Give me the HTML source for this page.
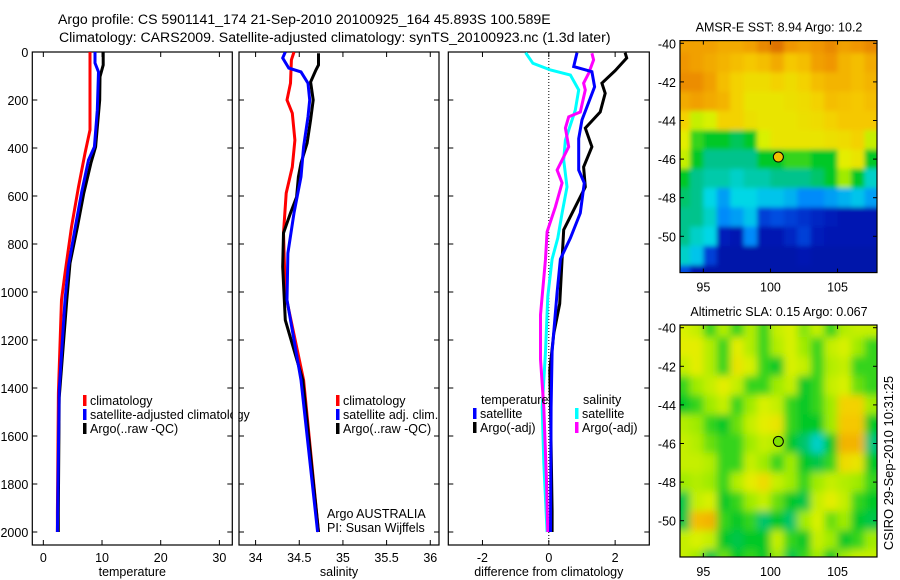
<!DOCTYPE html>
<html><head><meta charset="utf-8"><style>
html,body{margin:0;padding:0;background:#fff;}
svg{display:block;font-family:"Liberation Sans",Arial,sans-serif;}
</style></head><body>
<svg id="fig" width="900" height="580" viewBox="0 0 900 580" xmlns="http://www.w3.org/2000/svg">
<defs>
<clipPath id="c1"><rect x="32.3" y="52" width="200" height="493"/></clipPath>
<clipPath id="c2"><rect x="239" y="52" width="200" height="493"/></clipPath>
<clipPath id="c3"><rect x="448.3" y="52" width="201" height="493"/></clipPath>
<clipPath id="cm1"><rect x="680" y="40.7" width="197" height="232"/></clipPath>
<clipPath id="cm2"><rect x="680" y="324.5" width="197" height="232"/></clipPath>
<filter id="bl1" filterUnits="userSpaceOnUse" x="600" y="0" width="300" height="300"><feGaussianBlur stdDeviation="2.5"/></filter>
<filter id="bl2" filterUnits="userSpaceOnUse" x="600" y="280" width="300" height="300"><feGaussianBlur stdDeviation="4"/></filter>
</defs>
<text x="58" y="24" font-size="14.1">Argo profile: CS 5901141_174 21-Sep-2010 20100925_164 45.893S 100.589E</text>
<text x="59" y="42" font-size="14.1">Climatology: CARS2009. Satellite-adjusted climatology: synTS_20100923.nc (1.3d later)</text>
<g id="g1"></g>
<g id="g2"></g>
<g id="g3"></g>
<g id="m1"></g>
<g id="m2"></g>
<text transform="translate(893,463) rotate(-90)" text-anchor="middle" font-size="13">CSIRO 29-Sep-2010 10:31:25</text>
</svg>
<script>
// ---- data ----
const depthTicks = [0,200,400,600,800,1000,1200,1400,1600,1800,2000];
const tempTicks = [0,10,20,30];
const salTicks = [34,34.5,35,35.5,36];
const salTickLabels = ["34","34.5","35","35.5","36"];
const diffTicks = [-2,0,2];
const latTicks = [-40,-42,-44,-46,-48,-50];
const lonTicks = [95,100,105];

const tClimD = [0,325,422,562,729,922,1033,1422,1921,2000];
const tClimV = [7.96,7.96,7.1,6.0,4.8,3.7,3.1,2.56,2.4,2.4];
const tSatD = [0,46,83,242,395,450,588,729,895,1033,1408,2000];
const tSatV = [8.8,8.8,9.4,9.2,8.7,7.7,6.5,5.45,4.25,3.7,2.7,2.4];
const tArgoD = [2,54,103,200,395,463,588,729,880,1033,1440,1921,2000];
const tArgoV = [10.2,10.2,9.65,9.6,8.9,8.1,6.9,5.8,4.55,4.0,2.7,2.55,2.55];

const sClimD = [0,33,130,200,255,367,479,588,754,1005,1367,2000];
const sClimV = [34.44,34.41,34.4,34.36,34.42,34.45,34.42,34.35,34.32,34.34,34.55,34.72];
const sSatD = [0,25,67,83,130,200,270,395,520,671,838,1033,1367,2000];
const sSatV = [34.34,34.31,34.38,34.52,34.6,34.62,34.6,34.55,34.52,34.44,34.37,34.36,34.52,34.71];
const sArgoD = [5,54,75,125,200,283,380,463,520,604,671,754,895,1117,1367,2000];
const sArgoV = [34.72,34.72,34.69,34.63,34.66,34.63,34.59,34.52,34.49,34.47,34.4,34.32,34.31,34.34,34.54,34.72];

const dTSatD = [3,61,82,145,283,361,492,546,671,775,863,1002,1249,1480,2000];
const dTSatV = [0.85,0.75,1.3,1.38,1.0,0.9,0.9,1.07,0.95,0.65,0.35,0.25,0.1,0.07,0.05];
const dTArgoD = [3,25,78,130,172,250,317,395,479,562,645,741,863,1049,1172,1326,1480,1912,2000];
const dTArgoV = [2.3,2.35,2.0,1.6,1.7,1.55,1.1,1.3,1.05,1.1,0.8,0.45,0.4,0.33,0.15,0.03,0.05,0.1,0.1];
const dSSatD = [3,47,75,96,158,242,367,450,562,671,775,863,1018,1249,1480,1712,2000];
const dSSatV = [-0.7,-0.48,0.05,0.65,0.9,0.8,0.5,0.45,0.55,0.4,0.27,0.1,-0.03,-0.1,-0.2,-0.15,-0.05];
const dSArgoD = [5,33,89,130,158,250,270,317,395,492,546,645,749,863,1095,1280,1480,1788,2000];
const dSArgoV = [1.3,1.35,1.2,1.05,1.1,0.95,0.6,0.5,0.6,0.25,0.4,0.2,-0.05,-0.1,-0.25,-0.25,-0.15,-0.07,-0.03];

const sstRows = [
[.8,.8,.8,.78,.78,.8,.85,.9,.82,.8,.82,.85,.8,.82,.85],
[.82,.8,.78,.76,.74,.72,.74,.78,.72,.74,.8,.82,.76,.74,.78],
[.84,.84,.8,.74,.7,.68,.68,.7,.68,.7,.74,.76,.76,.74,.76],
[.78,.8,.78,.76,.7,.66,.66,.66,.67,.68,.7,.74,.73,.72,.74],
[.7,.6,.62,.7,.7,.67,.66,.66,.66,.67,.68,.7,.72,.72,.72],
[.64,.52,.5,.5,.47,.5,.62,.66,.66,.66,.66,.67,.68,.7,.6],
[.6,.5,.44,.44,.44,.44,.5,.5,.52,.52,.5,.5,.64,.66,.5],
[.5,.44,.42,.42,.4,.42,.42,.44,.44,.44,.46,.5,.56,.5,.4],
[.46,.44,.38,.32,.38,.38,.36,.36,.34,.3,.3,.32,.34,.36,.32],
[.44,.44,.4,.3,.32,.36,.2,.22,.2,.18,.16,.14,.12,.12,.12],
[.44,.4,.38,.14,.12,.3,.12,.12,.16,.2,.14,.12,.12,.12,.12],
[.4,.36,.2,.1,.1,.1,.1,.1,.1,.12,.1,.1,.1,.1,.1],
[.22,.12,.1,.1,.1,.1,.1,.1,.1,.1,.1,.1,.1,.1,.1]];
const slaRows = [
[.62,.6,.52,.58,.52,.58,.52,.6,.62,.55,.6,.52,.58,.6,.6],
[.64,.64,.58,.52,.64,.58,.52,.58,.62,.56,.52,.6,.62,.56,.52],
[.6,.64,.58,.52,.66,.62,.52,.5,.62,.6,.52,.58,.6,.52,.52],
[.52,.56,.6,.64,.6,.52,.52,.56,.6,.5,.52,.6,.62,.54,.52],
[.5,.52,.56,.6,.52,.56,.62,.6,.52,.5,.52,.56,.7,.7,.56],
[.58,.56,.52,.5,.54,.6,.64,.66,.52,.5,.5,.56,.72,.72,.5],
[.6,.58,.54,.52,.52,.56,.6,.58,.5,.46,.4,.5,.76,.76,.45],
[.6,.6,.58,.52,.52,.6,.56,.52,.56,.5,.48,.52,.68,.66,.5],
[.56,.58,.56,.52,.58,.64,.68,.6,.56,.52,.56,.6,.58,.56,.52],
[.48,.6,.62,.5,.52,.56,.6,.54,.5,.48,.6,.64,.6,.52,.5],
[.48,.74,.76,.52,.5,.52,.46,.5,.46,.56,.62,.54,.56,.5,.48],
[.6,.62,.6,.5,.48,.5,.5,.6,.52,.5,.6,.56,.5,.52,.56],
[.6,.56,.48,.54,.5,.52,.5,.56,.48,.52,.56,.5,.56,.6,.6]];
const floatLon = 100.589, floatLat = -45.893;

// ---- helpers ----
const NS = "http://www.w3.org/2000/svg";
function mk(tag, attrs, parent){const e=document.createElementNS(NS,tag);for(const k in attrs)e.setAttribute(k,attrs[k]);parent.appendChild(e);return e;}
const yD = d => 52 + d*0.24;
const PT=52, PB=545;

function panel(g, x0, x1, dom, ticks, labels, xlabel, clip, showY){
  const sx = v => x0 + (v-dom[0])/(dom[1]-dom[0])*(x1-x0);
  const box = mk('rect',{x:x0,y:PT,width:x1-x0,height:PB-PT,fill:'none',stroke:'#000','stroke-width':1.2},g);
  
  
  ticks.forEach((t,i)=>{
    const x=sx(t);
    mk('line',{x1:x,x2:x,y1:PB,y2:PB-5,stroke:'#000'},g);
    mk('line',{x1:x,x2:x,y1:PT,y2:PT+5,stroke:'#000'},g);
    const tl=mk('text',{x:x,y:PB+17,'font-size':12.5,'text-anchor':'middle'},g);
    tl.textContent=labels[i];
    
    
  });
  depthTicks.forEach(d=>{
    const y=yD(d);
    mk('line',{x1:x0,x2:x0+5,y1:y,y2:y,stroke:'#000'},g);
    mk('line',{x1:x1,x2:x1-5,y1:y,y2:y,stroke:'#000'},g);
    if(showY){const tl=mk('text',{x:x0-4,y:y+5,'font-size':12.5,'text-anchor':'end'},g);tl.textContent=d;
      
      }
  });
  const xl=mk('text',{x:(x0+x1)/2,y:576,'font-size':12.5,'text-anchor':'middle'},g);
  xl.textContent=xlabel;
  
  
  const lg=mk('g',{'clip-path':'url(#'+clip+')'},g);
  return {sx,lg};
}
function line(p, D, V, color, name){
  const pts=D.map((d,i)=>p.sx(V[i]).toFixed(1)+','+yD(d).toFixed(1)).join(' ');
  const l=mk('polyline',{points:pts,fill:'none',stroke:color,'stroke-width':3,'stroke-linejoin':'miter'},p.lg);
  
  
}
function legend(g, x, y, color, label){
  mk('rect',{x:x,y:y-10,width:3.5,height:11,fill:color},g);
  const t=mk('text',{x:x+7,y:y,'font-size':12.5},g);
  t.textContent=label;
  
  
}

// panel 1
const g1=document.getElementById('g1');
const p1=panel(g1,32.3,232.3,[-1.88,32.2],tempTicks,tempTicks.map(String),'temperature','c1',true);
line(p1,tClimD,tClimV,'#f00','temp-climatology-line');
line(p1,tArgoD,tArgoV,'#000','temp-argo-line');
line(p1,tSatD,tSatV,'#00f','temp-satellite-line');
legend(g1,83,405,'#f00','climatology');
legend(g1,83,419,'#00f','satellite-adjusted climatology');
legend(g1,83,433,'#000','Argo(..raw -QC)');
mk('rect',{x:232.9,y:400,width:5.5,height:30,fill:'#fff'},g1);

// panel 2
const g2=document.getElementById('g2');
const p2=panel(g2,239,439,[33.81,36.1],salTicks,salTickLabels,'salinity','c2',false);
line(p2,sClimD,sClimV,'#f00','sal-climatology-line');
line(p2,sArgoD,sArgoV,'#000','sal-argo-line');
line(p2,sSatD,sSatV,'#00f','sal-satellite-line');
legend(g2,336,405,'#f00','climatology');
legend(g2,336,419,'#00f','satellite adj. clim.');
legend(g2,336,433,'#000','Argo(..raw -QC)');
const a1=mk('text',{x:327,y:518,'font-size':12.5},g2);a1.textContent='Argo AUSTRALIA';


const a2=mk('text',{x:327,y:532,'font-size':12.5},g2);a2.textContent='PI: Susan Wijffels';



// panel 3
const g3=document.getElementById('g3');
const p3=panel(g3,448.3,649.3,[-3.03,3.03],diffTicks,diffTicks.map(String),'difference from climatology','c3',false);
mk('line',{x1:p3.sx(0),x2:p3.sx(0),y1:PT,y2:PB,stroke:'#000','stroke-dasharray':'1,2'},p3.lg);
line(p3,dSSatD,dSSatV,'#0ff','sal-satellite-diff-line');
line(p3,dSArgoD,dSArgoV,'#f0f','sal-argo-diff-line');
line(p3,dTArgoD,dTArgoV,'#000','temp-argo-diff-line');
line(p3,dTSatD,dTSatV,'#00f','temp-satellite-diff-line');
const lt=mk('text',{x:481,y:404,'font-size':12.5},g3);lt.textContent='temperature';


const ls=mk('text',{x:583,y:404,'font-size':12.5},g3);ls.textContent='salinity';


legend(g3,473,418,'#00f','satellite');
legend(g3,473,432,'#000','Argo(-adj)');
legend(g3,575,418,'#0ff','satellite');
legend(g3,575,432,'#f0f','Argo(-adj)');

// maps
const cmapStops=[[0,[0,0,130]],[0.15,[0,30,190]],[0.28,[0,120,255]],[0.38,[0,215,230]],[0.44,[0,195,140]],[0.5,[0,200,40]],[0.56,[160,235,0]],[0.63,[225,242,0]],[0.71,[245,205,0]],[0.82,[240,150,0]],[1,[200,70,0]]];
function cmap(v){for(let i=1;i<cmapStops.length;i++){if(v<=cmapStops[i][0]){const a=cmapStops[i-1],b=cmapStops[i];const f=(v-a[0])/(b[0]-a[0]);return 'rgb('+a[1].map((c,k)=>Math.round(c+(b[1][k]-c)*f)).join(',')+')';}}return 'rgb(200,70,0)';}
function mapPanel(id, rows, y0, title, clip, filt, markFill){
  const g=document.getElementById(id);
  const sx=lon=>680+(lon-93.26)*13.42;
  const sy=lat=>y0+(-40-lat)*19.3;
  const outer=mk('g',{'clip-path':'url(#'+clip+')'},g);
  const inner=mk('g',{filter:'url(#'+filt+')'},outer);
  rows.forEach((row,r)=>row.forEach((v,c)=>{
    let xA=sx(93+c), xB=sx(94+c), yA=sy(-39.5-r), yB=sy(-40.5-r);
    if(c===0)xA-=15; if(c===row.length-1)xB+=15; if(r===0)yA-=15; if(r===rows.length-1)yB+=15;
    const cell=mk('rect',{x:xA,y:yA,width:xB-xA+0.5,height:yB-yA+0.5,fill:cmap(v)},inner);
    
    
  }));
  const top=sy(-39.86), bot=sy(-51.88);
  mk('rect',{x:680,y:top,width:197,height:bot-top,fill:'none',stroke:'#000','stroke-width':1.2},g);
  latTicks.forEach(lat=>{const y=sy(lat);
    mk('line',{x1:680,x2:684,y1:y,y2:y,stroke:'#000'},g);mk('line',{x1:877,x2:873,y1:y,y2:y,stroke:'#000'},g);
    const t=mk('text',{x:676,y:y+5,'font-size':12.5,'text-anchor':'end'},g);t.textContent=lat;
    
    });
  lonTicks.forEach(lon=>{const x=sx(lon);
    mk('line',{x1:x,x2:x,y1:bot,y2:bot-4,stroke:'#000'},g);mk('line',{x1:x,x2:x,y1:top,y2:top+4,stroke:'#000'},g);
    const t=mk('text',{x:x,y:bot+19,'font-size':12.5,'text-anchor':'middle'},g);t.textContent=lon;
    
    });
  const tt=mk('text',{x:779,y:top-9,'font-size':12.5,'text-anchor':'middle'},g);tt.textContent=title;
  
  
  const m=mk('circle',{cx:sx(floatLon),cy:sy(floatLat),r:5,fill:markFill,stroke:'#000','stroke-width':1},g);
  
  
}
mapPanel('m1',sstRows,43.3,'AMSR-E SST: 8.94 Argo: 10.2','cm1','bl1','#f0c000');
mapPanel('m2',slaRows,327.7,'Altimetric SLA: 0.15 Argo: 0.067','cm2','bl2','#80e000');
</script>
</body></html>
